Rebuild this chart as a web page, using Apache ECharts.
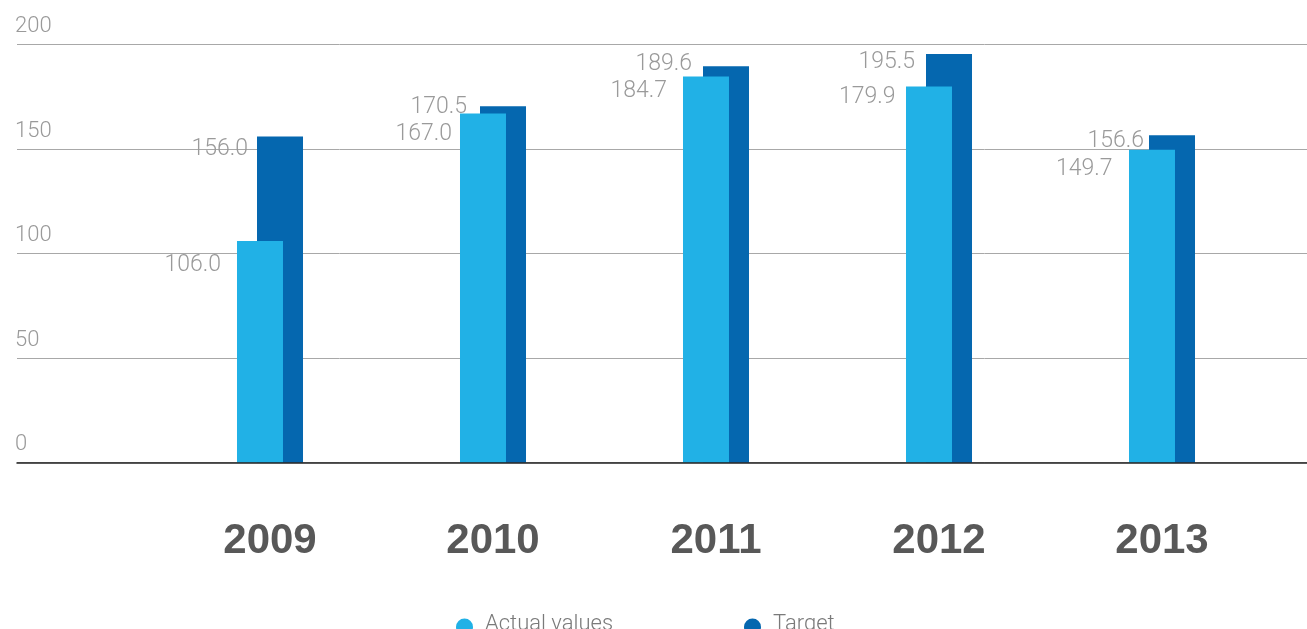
<!DOCTYPE html>
<html>
<head>
<meta charset="utf-8">
<script src="https://cdn.jsdelivr.net/npm/echarts@6/dist/echarts.min.js"></script>
<style>
  html, body { margin: 0; padding: 0; background: #fff; }
  #chart { width: 1307px; height: 629px; }
</style>
</head>
<body>
<div id="chart"></div>
<script>
// Yearly results against target
const years = ['2009', '2010', '2011', '2012', '2013'];
const actualValues = [106.0, 167.0, 184.7, 179.9, 149.7];
const targetValues = [156.0, 170.5, 189.6, 195.5, 156.6];
const yTicks = [0, 50, 100, 150, 200];

const LIGHT = 'Roboto, "Open Sans", "Liberation Sans", sans-serif';
const BOLD = '"Liberation Sans", Arial, sans-serif';

// value labels sit to the left of each bar's top edge, nudged per year so
// that neighbouring labels do not collide: [x gap left of bar, y below top]
const labelPlacement = {
  actual: [[-16, 24], [-8, 20.5], [-16, 14.3], [-10.5, 10.5], [-16.5, 20]],
  target: [[-9, 13], [-13, 1.3], [-11, -2.3], [-11, 8], [-5, 6]]
};

function buildData(values, key) {
  return values.map((v, i) => ({
    value: v,
    label: { position: labelPlacement[key][i] }
  }));
}

const valueLabel = {
  show: true,
  align: 'right',
  verticalAlign: 'middle',
  color: '#9a9a9a',
  fontFamily: LIGHT,
  fontWeight: 300,
  fontSize: 23,
  formatter: p => p.value.toFixed(1)
};

// legend text rides slightly above the marker's centre
const legendText = {
  color: '#7a7a7a', fontFamily: LIGHT, fontWeight: 300, fontSize: 22,
  padding: [0, 0, 0, 7],
  rich: {
    t: { color: '#7a7a7a', fontFamily: LIGHT, fontWeight: 300, fontSize: 22, lineHeight: 22, verticalAlign: 'top' },
    s: { lineHeight: 28, width: 0 }
  }
};
const legendFormatter = name => '{t|' + name + '}{s|}';

const chart = echarts.init(document.getElementById('chart'), null, { renderer: 'canvas' });

chart.setOption({
  animation: false,
  backgroundColor: '#ffffff',
  grid: [
    // full-width grid carrying the value gridlines and baseline
    { left: 17, right: 0, top: 44.5, bottom: 166.3, containLabel: false },
    // grid holding the bars and year labels
    { left: 158.5, right: 33.5, top: 44.5, bottom: 166.3, containLabel: false }
  ],
  legend: [
    {
      data: ['Actual values'],
      left: 456, top: 613, padding: 0,
      icon: 'circle', itemWidth: 17, itemHeight: 17, itemGap: 12,
      formatter: legendFormatter,
      textStyle: legendText
    },
    {
      data: ['Target'],
      left: 744, top: 613, padding: 0,
      icon: 'circle', itemWidth: 17, itemHeight: 17, itemGap: 12,
      formatter: legendFormatter,
      textStyle: legendText
    }
  ],
  xAxis: [
    {
      gridIndex: 0,
      type: 'category',
      data: years,
      axisLine: { show: true, lineStyle: { color: '#222', width: 1.5 } },
      axisTick: { show: false },
      axisLabel: { show: false },
      z: 5
    },
    {
      gridIndex: 1,
      type: 'category',
      data: years,
      axisLine: { show: false },
      axisTick: { show: false },
      axisLabel: {
        margin: 57.5,
        color: '#585858',
        fontFamily: BOLD,
        fontWeight: 'bold',
        fontSize: 42
      }
    }
  ],
  yAxis: [
    {
      gridIndex: 0,
      type: 'value',
      min: 0, max: 200, interval: 50,
      axisLine: { show: false },
      axisTick: { show: false },
      splitLine: { show: true, lineStyle: { color: '#a8a8a8', width: 1 } },
      axisLabel: {
        inside: true,
        margin: -2,
        align: 'left',
        verticalAlign: 'bottom',
        lineHeight: 36,
        color: '#9a9a9a',
        fontFamily: LIGHT,
        fontWeight: 300,
        fontSize: 22,
        customValues: yTicks
      }
    },
    {
      gridIndex: 1,
      type: 'value',
      min: 0, max: 200, interval: 50,
      show: false,
      splitLine: { show: false }
    }
  ],
  series: [
    {
      name: 'Actual values',
      type: 'bar',
      xAxisIndex: 1, yAxisIndex: 1,
      barWidth: 46,
      barGap: '-56.5%',
      z: 3,
      itemStyle: { color: '#21b1e6' },
      label: valueLabel,
      data: buildData(actualValues, 'actual')
    },
    {
      name: 'Target',
      type: 'bar',
      xAxisIndex: 1, yAxisIndex: 1,
      barWidth: 46,
      z: 2,
      itemStyle: { color: '#0567af' },
      label: valueLabel,
      data: buildData(targetValues, 'target')
    }
  ]
});
</script>
</body>
</html>
